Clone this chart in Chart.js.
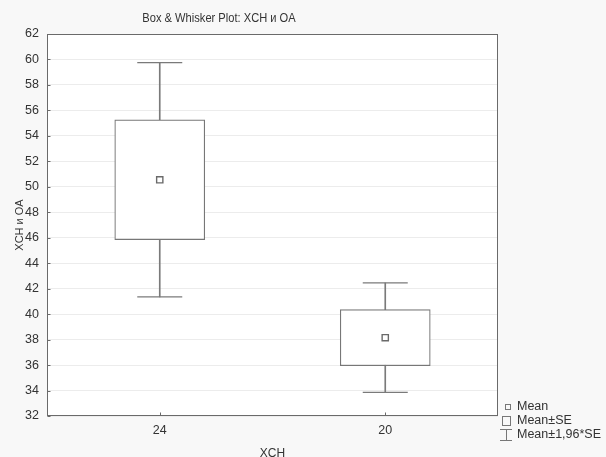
<!DOCTYPE html>
<html>
<head>
<meta charset="utf-8">
<script src="https://cdn.jsdelivr.net/npm/chart.js@4/dist/chart.umd.min.js"></script>
<style>
  html, body { margin: 0; padding: 0; background: #f8f8f8; }
  #wrap { width: 606px; height: 457px; }
</style>
</head>
<body>
<div id="wrap"><canvas id="c" width="606" height="457"></canvas></div>
<script>
// Groups on the x axis
const categories = ['24', '20'];
// Group means
const means = [50.55, 38.15];
// Mean ± SE (box)
const seLow = [45.85, 35.95];
const seHigh = [55.25, 40.35];
// Mean ± 1,96*SE (whiskers)
const ciLow = [41.35, 33.85];
const ciHigh = [59.75, 42.45];
// Value axis ticks
const yTicks = [32, 34, 36, 38, 40, 42, 44, 46, 48, 50, 52, 54, 56, 58, 60, 62];
// Texts
const titleText = 'Box & Whisker Plot: XCH и OA';
const xTitle = 'XCH';
const yTitle = 'XCH и OA';
const legendLabels = ['Mean', 'Mean±SE', 'Mean±1,96*SE'];

const FONT = '"Liberation Sans", Arial, sans-serif';
const TEXT = '#333333';
const LINE = '#6a6a6a';
const GRID = '#ececec';

const crisp = v => Math.round(v) + 0.5;

// Plot background, frame, inner ticks, title and legend
const frame = {
  id: 'frame',
  beforeDraw(chart) {
    const { ctx, chartArea: a } = chart;
    ctx.save();
    ctx.fillStyle = '#ffffff';
    ctx.fillRect(a.left, a.top, a.right - a.left, a.bottom - a.top);
    ctx.restore();
  },
  afterDraw(chart) {
    const { ctx, chartArea: a, scales } = chart;
    ctx.save();
    ctx.strokeStyle = LINE;
    ctx.lineWidth = 1;
    const l = crisp(a.left), r = crisp(a.right) - 1, t = crisp(a.top), b = crisp(a.bottom) - 1;
    ctx.strokeRect(l, t, r - l, b - t);
    // inner tick marks
    ctx.beginPath();
    yTicks.forEach(v => {
      const y = crisp(scales.y.getPixelForValue(v));
      ctx.moveTo(l, y); ctx.lineTo(l + 3, y);
    });
    categories.forEach((c, i) => {
      const x = crisp(scales.x.getPixelForValue(i));
      ctx.moveTo(x, b); ctx.lineTo(x, b - 3);
    });
    ctx.stroke();

    // title, set in a slightly condensed face
    ctx.save();
    ctx.fillStyle = TEXT;
    ctx.font = '12.5px ' + FONT;
    ctx.textAlign = 'center';
    ctx.textBaseline = 'middle';
    const tx = a.left + 172;
    ctx.translate(tx, a.top - 15);
    ctx.scale(0.89, 1);
    ctx.fillText(titleText, 0, 0);
    ctx.restore();

    // legend
    const lx = a.right + 12;
    const ly = a.bottom - 9;
    const step = 14;
    ctx.font = '12.5px ' + FONT;
    ctx.textAlign = 'left';
    ctx.textBaseline = 'middle';
    ctx.fillStyle = TEXT;
    legendLabels.forEach((txt, i) => ctx.fillText(txt, a.right + 19, ly + i * step));
    ctx.strokeStyle = '#777777';
    // mean marker
    ctx.strokeRect(crisp(lx - 5), crisp(ly - 3), 5, 5);
    // SE box
    ctx.strokeRect(crisp(lx - 8), crisp(ly + step - 5), 8, 9);
    // whisker symbol
    const wy = ly + 2 * step;
    ctx.beginPath();
    ctx.moveTo(lx - 10, crisp(wy - 6)); ctx.lineTo(lx + 2, crisp(wy - 6));
    ctx.moveTo(crisp(lx - 4), wy - 6); ctx.lineTo(crisp(lx - 4), wy + 5);
    ctx.moveTo(lx - 10, crisp(wy + 5)); ctx.lineTo(lx + 2, crisp(wy + 5));
    ctx.stroke();
    ctx.restore();
  }
};

new Chart(document.getElementById('c'), {
  data: {
    labels: categories,
    datasets: [
      {
        type: 'bar',
        label: 'whisker',
        data: ciLow.map((v, i) => [v, ciHigh[i]]),
        backgroundColor: '#7a7a7a',
        borderWidth: 0,
        barThickness: 1,
        grouped: false,
        order: 4
      },
      {
        type: 'bar',
        label: 'Mean±SE',
        data: seLow.map((v, i) => [v, seHigh[i]]),
        backgroundColor: '#ffffff',
        borderColor: '#777777',
        borderWidth: 1.2,
        borderSkipped: false,
        barThickness: 90,
        grouped: false,
        order: 3
      },
      {
        type: 'line',
        label: 'upper',
        data: ciHigh,
        showLine: false,
        pointStyle: 'line',
        pointRadius: 22.5,
        borderColor: '#7a7a7a',
        borderWidth: 1.2,
        order: 2
      },
      {
        type: 'line',
        label: 'lower',
        data: ciLow,
        showLine: false,
        pointStyle: 'line',
        pointRadius: 22.5,
        borderColor: '#7a7a7a',
        borderWidth: 1.2,
        order: 2
      },
      {
        type: 'line',
        label: 'Mean',
        data: means,
        showLine: false,
        pointStyle: 'rect',
        pointRadius: 4.4,
        pointBackgroundColor: '#ffffff',
        pointBorderColor: '#6a6a6a',
        pointBorderWidth: 1.4,
        order: 1
      }
    ]
  },
  options: {
    responsive: false,
    animation: false,
    devicePixelRatio: 1,
    layout: { padding: { top: 34, right: 108, bottom: 0, left: 0 } },
    plugins: {
      legend: { display: false },
      title: { display: false },
      tooltip: { enabled: false }
    },
    scales: {
      x: {
        type: 'category',
        offset: true,
        grid: { display: false, drawTicks: false },
        border: { display: false },
        ticks: { color: TEXT, font: { family: FONT, size: 12.5 }, padding: 7 },
        title: {
          display: true, text: xTitle, color: TEXT,
          font: { family: FONT, size: 12, lineHeight: 0.6 }, padding: 0
        },
        afterFit(s) { s.height = 41; }
      },
      y: {
        min: 32, max: 62,
        afterBuildTicks(s) { s.ticks = yTicks.map(v => ({ value: v })); },
        grid: { color: GRID, lineWidth: 1, drawTicks: false },
        border: { display: false },
        ticks: { color: TEXT, font: { family: FONT, size: 12.5 }, padding: 8 },
        title: {
          display: true, text: yTitle, color: TEXT,
          font: { family: FONT, size: 11 }, padding: { top: 13, bottom: 0 }
        },
        afterFit(s) { s.width = 47; }
      }
    }
  },
  plugins: [frame]
});
</script>
</body>
</html>
